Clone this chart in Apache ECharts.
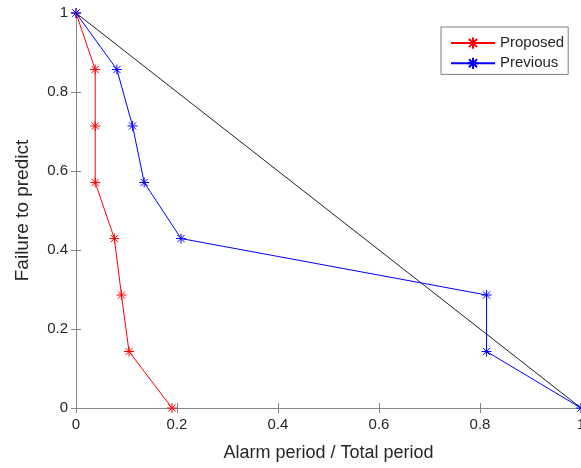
<!DOCTYPE html>
<html>
<head>
<meta charset="utf-8">
<script src="https://cdn.jsdelivr.net/npm/echarts@6/dist/echarts.min.js"></script>
<style>
  html, body { margin: 0; padding: 0; background: #fff; }
  #chart { width: 581px; height: 468px; }
</style>
</head>
<body>
<div id="chart"></div>
<script>
// alarm period ratio (x) vs failure-to-predict ratio (y)
const proposedX = [0, 0.038, 0.038, 0.038, 0.076, 0.090, 0.105, 0.190];
const proposedY = [1, 0.857, 0.714, 0.571, 0.429, 0.286, 0.143, 0];
const previousX = [0, 0.081, 0.112, 0.135, 0.208, 0.813, 0.813, 1];
const previousY = [1, 0.857, 0.714, 0.571, 0.429, 0.286, 0.143, 0];
const chanceX = [0, 1];
const chanceY = [1, 0];
const tickValues = [0, 0.2, 0.4, 0.6, 0.8, 1];

const star = 'path://M0,-5L0,5M-5,0L5,0M-3.6,-3.6L3.6,3.6M-3.6,3.6L3.6,-3.6';
const axisGray = '#868686';
const labelColor = '#262626';
const font = 'Liberation Sans, Arial, sans-serif';

function zip(xs, ys) {
    return xs.map((x, i) => [x, ys[i]]);
}

function tickText(v) {
    const t = tickValues.find(t => Math.abs(t - v) < 1e-9);
    return String(t === undefined ? v : t);
}

function boxAxis(extra) {
    return Object.assign({
        type: 'value',
        min: 0,
        max: 1,
        interval: 0.2,
        axisLine: { show: true, lineStyle: { color: axisGray, width: 1 } },
        axisTick: { show: true, inside: true, length: 5, lineStyle: { color: axisGray } },
        axisLabel: { show: false },
        splitLine: { show: false }
    }, extra);
}

function markerSeries(name, color, xs, ys) {
    return {
        name: name,
        type: 'line',
        data: zip(xs, ys),
        symbol: star,
        symbolSize: 10,
        showAllSymbol: true,
        lineStyle: { color: color, width: 1 },
        itemStyle: { color: 'none', borderColor: color, borderWidth: 1 },
        emphasis: { disabled: true },
        z: 3
    };
}

const chart = echarts.init(document.getElementById('chart'));

const option = {
    backgroundColor: '#fff',
    animation: false,
    textStyle: { fontFamily: font },
    grid: {
        left: 76, right: 0, top: 13, bottom: 60,
        containLabel: false,
        outerBoundsMode: 'none'
    },
    legend: {
        orient: 'vertical',
        left: 441,
        top: 27,
        padding: [8, 4, 3, 9],
        itemWidth: 44,
        itemHeight: 14,
        itemGap: 4,
        backgroundColor: '#fff',
        borderColor: '#7f7f7f',
        borderWidth: 1,
        borderRadius: 0,
        textStyle: { fontSize: 15, color: labelColor, fontFamily: font },
        data: ['Proposed', 'Previous']
    },
    xAxis: [
        boxAxis({
            position: 'bottom',
            name: 'Alarm period / Total period',
            nameLocation: 'middle',
            nameGap: 36,
            nameTextStyle: { fontSize: 18, color: labelColor, fontFamily: font },
            axisLabel: { show: true, fontSize: 15, color: labelColor, margin: 9, formatter: tickText }
        }),
        boxAxis({ position: 'top' })
    ],
    yAxis: [
        boxAxis({
            position: 'left',
            name: 'Failure to predict',
            nameLocation: 'middle',
            nameGap: 44,
            nameTextStyle: { fontSize: 19, color: labelColor, fontFamily: font },
            axisLabel: { show: true, fontSize: 15, color: labelColor, margin: 8, formatter: tickText }
        }),
        boxAxis({ position: 'right' })
    ],
    series: [
        {
            name: 'Chance',
            type: 'line',
            data: zip(chanceX, chanceY),
            symbol: 'none',
            lineStyle: { color: '#202020', width: 1 },
            emphasis: { disabled: true },
            z: 2
        },
        markerSeries('Proposed', '#ff0000', proposedX, proposedY),
        markerSeries('Previous', '#0000ff', previousX, previousY)
    ]
};

chart.setOption(option);
</script>
</body>
</html>
